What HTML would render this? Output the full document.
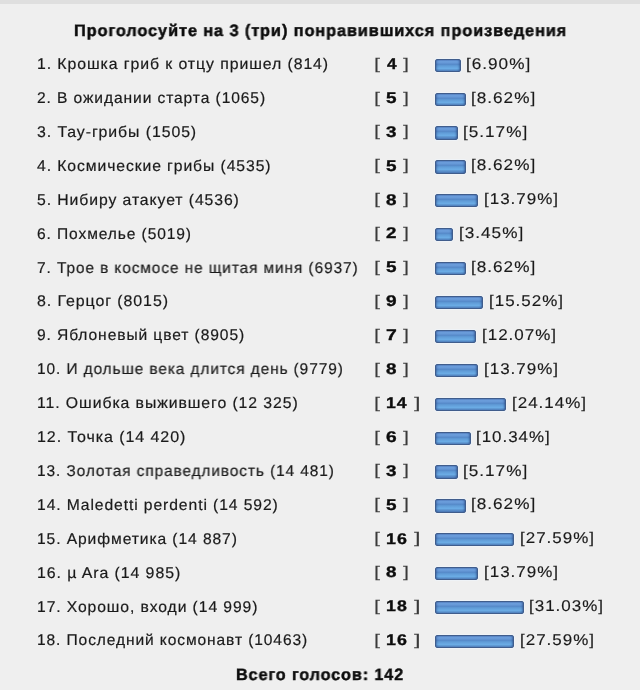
<!DOCTYPE html><html><head><meta charset="utf-8"><style>
html,body{margin:0;padding:0}
body{width:640px;height:690px;background:#efefef;position:relative;overflow:hidden;font-family:"Liberation Sans",sans-serif;color:#1a1a1a}
.t{position:absolute;white-space:nowrap;line-height:1;transform-origin:0 0;will-change:transform;text-rendering:geometricPrecision;letter-spacing:0.9px;-webkit-text-stroke:0.2px currentColor}
.b{font-weight:bold;color:#0c0c0c;-webkit-text-stroke:0.35px currentColor}
.g{color:#3a3a3a;-webkit-text-stroke:0.1px currentColor}
.ti{-webkit-text-stroke:0.45px currentColor}
.pc{-webkit-text-stroke:0.15px currentColor}
.bar{position:absolute;height:13.3px;box-sizing:border-box;border:1px solid #405d8c;border-radius:2px;
background:linear-gradient(#5a88c8 0px,#6a9cda 1.5px,#6699d8 3px,#5587c7 4.2px,#5b95d2 5.2px,#66a4de 7px,#6aabe4 8.5px,#5f98d2 9.6px,#5181bf 11.3px);box-shadow:inset -2px 0 2px -1px rgba(40,70,130,.6), inset 2px 0 2px -1px rgba(40,70,130,.5), 0 0 0 1px rgba(240,248,255,.5)}
.top{position:absolute;left:0;top:0;width:640px;height:3.5px;background:#dfdfdf}
</style></head><body><div class="top"></div>
<div class="t b ti" style="left:73.89px;top:22.93px;font-size:16.5px;transform:scaleX(0.9906)">Проголосуйте на 3 (три) понравившихся произведения</div>
<div class="t " style="left:37.28px;top:57.18px;font-size:15.5px;transform:scaleX(1.0216)">1. Крошка гриб к отцу пришел (814)</div>
<div class="t g" style="left:373.51px;top:56.68px;font-size:15.5px;transform:scaleX(1.4055)">[</div>
<div class="t b" style="left:386.53px;top:56.98px;font-size:15.5px;transform:scaleX(1.1078)">4</div>
<div class="t g" style="left:403.21px;top:56.68px;font-size:15.5px;transform:scaleX(1.3915)">]</div>
<div class="bar" style="left:435px;top:58.60px;width:25.50px"></div>
<div class="t pc" style="left:466.26px;top:56.78px;font-size:15.5px;transform:scaleX(1.1075)">[6.90%]</div>
<div class="t " style="left:37.40px;top:91.08px;font-size:15.5px;transform:scaleX(1.0057)">2. В ожидании старта (1065)</div>
<div class="t g" style="left:373.51px;top:90.58px;font-size:15.5px;transform:scaleX(1.4055)">[</div>
<div class="t b" style="left:386.14px;top:90.88px;font-size:15.5px;transform:scaleX(1.2194)">5</div>
<div class="t g" style="left:403.21px;top:90.58px;font-size:15.5px;transform:scaleX(1.3915)">]</div>
<div class="bar" style="left:435px;top:92.50px;width:30.50px"></div>
<div class="t pc" style="left:471.26px;top:90.68px;font-size:15.5px;transform:scaleX(1.1075)">[8.62%]</div>
<div class="t " style="left:37.36px;top:124.98px;font-size:15.5px;transform:scaleX(1.0226)">3. Тау-грибы (1505)</div>
<div class="t g" style="left:373.51px;top:124.48px;font-size:15.5px;transform:scaleX(1.4055)">[</div>
<div class="t b" style="left:386.38px;top:124.78px;font-size:15.5px;transform:scaleX(1.2114)">3</div>
<div class="t g" style="left:403.21px;top:124.48px;font-size:15.5px;transform:scaleX(1.3915)">]</div>
<div class="bar" style="left:435px;top:126.40px;width:22.50px"></div>
<div class="t pc" style="left:463.26px;top:124.58px;font-size:15.5px;transform:scaleX(1.1075)">[5.17%]</div>
<div class="t " style="left:36.87px;top:158.88px;font-size:15.5px;transform:scaleX(1.0145)">4. Космические грибы (4535)</div>
<div class="t g" style="left:373.51px;top:158.38px;font-size:15.5px;transform:scaleX(1.4055)">[</div>
<div class="t b" style="left:386.14px;top:158.68px;font-size:15.5px;transform:scaleX(1.2194)">5</div>
<div class="t g" style="left:403.21px;top:158.38px;font-size:15.5px;transform:scaleX(1.3915)">]</div>
<div class="bar" style="left:435px;top:160.30px;width:30.50px"></div>
<div class="t pc" style="left:471.26px;top:158.48px;font-size:15.5px;transform:scaleX(1.1075)">[8.62%]</div>
<div class="t " style="left:37.14px;top:192.78px;font-size:15.5px;transform:scaleX(1.0170)">5. Нибиру атакует (4536)</div>
<div class="t g" style="left:373.51px;top:192.28px;font-size:15.5px;transform:scaleX(1.4055)">[</div>
<div class="t b" style="left:386.31px;top:192.58px;font-size:15.5px;transform:scaleX(1.2174)">8</div>
<div class="t g" style="left:403.21px;top:192.28px;font-size:15.5px;transform:scaleX(1.3915)">]</div>
<div class="bar" style="left:435px;top:194.20px;width:43.00px"></div>
<div class="t pc" style="left:483.76px;top:192.38px;font-size:15.5px;transform:scaleX(1.0959)">[13.79%]</div>
<div class="t " style="left:36.76px;top:226.68px;font-size:15.5px;transform:scaleX(1.0036)">6. Похмелье (5019)</div>
<div class="t g" style="left:373.51px;top:226.18px;font-size:15.5px;transform:scaleX(1.4055)">[</div>
<div class="t b" style="left:386.34px;top:226.48px;font-size:15.5px;transform:scaleX(1.2091)">2</div>
<div class="t g" style="left:403.21px;top:226.18px;font-size:15.5px;transform:scaleX(1.3915)">]</div>
<div class="bar" style="left:435px;top:228.10px;width:18.00px"></div>
<div class="t pc" style="left:458.76px;top:226.28px;font-size:15.5px;transform:scaleX(1.1071)">[3.45%]</div>
<div class="t " style="left:37.02px;top:260.58px;font-size:15.5px;transform:scaleX(0.9969)">7. Трое в космосе не щитая миня (6937)</div>
<div class="t g" style="left:373.51px;top:260.08px;font-size:15.5px;transform:scaleX(1.4055)">[</div>
<div class="t b" style="left:386.14px;top:260.38px;font-size:15.5px;transform:scaleX(1.2194)">5</div>
<div class="t g" style="left:403.21px;top:260.08px;font-size:15.5px;transform:scaleX(1.3915)">]</div>
<div class="bar" style="left:435px;top:262.00px;width:30.50px"></div>
<div class="t pc" style="left:471.26px;top:260.18px;font-size:15.5px;transform:scaleX(1.1075)">[8.62%]</div>
<div class="t " style="left:36.82px;top:294.48px;font-size:15.5px;transform:scaleX(1.0281)">8. Герцог (8015)</div>
<div class="t g" style="left:373.51px;top:293.98px;font-size:15.5px;transform:scaleX(1.4055)">[</div>
<div class="t b" style="left:386.26px;top:294.28px;font-size:15.5px;transform:scaleX(1.2303)">9</div>
<div class="t g" style="left:403.21px;top:293.98px;font-size:15.5px;transform:scaleX(1.3915)">]</div>
<div class="bar" style="left:435px;top:295.90px;width:48.00px"></div>
<div class="t pc" style="left:488.76px;top:294.08px;font-size:15.5px;transform:scaleX(1.0959)">[15.52%]</div>
<div class="t " style="left:36.79px;top:328.38px;font-size:15.5px;transform:scaleX(1.0060)">9. Яблоневый цвет (8905)</div>
<div class="t g" style="left:373.51px;top:327.88px;font-size:15.5px;transform:scaleX(1.4055)">[</div>
<div class="t b" style="left:386.15px;top:328.18px;font-size:15.5px;transform:scaleX(1.2491)">7</div>
<div class="t g" style="left:403.21px;top:327.88px;font-size:15.5px;transform:scaleX(1.3915)">]</div>
<div class="bar" style="left:435px;top:329.80px;width:40.75px"></div>
<div class="t pc" style="left:481.51px;top:327.98px;font-size:15.5px;transform:scaleX(1.0959)">[12.07%]</div>
<div class="t " style="left:37.09px;top:362.28px;font-size:15.5px;transform:scaleX(0.9964)">10. И дольше века длится день (9779)</div>
<div class="t g" style="left:373.51px;top:361.78px;font-size:15.5px;transform:scaleX(1.4055)">[</div>
<div class="t b" style="left:386.31px;top:362.08px;font-size:15.5px;transform:scaleX(1.2174)">8</div>
<div class="t g" style="left:403.21px;top:361.78px;font-size:15.5px;transform:scaleX(1.3915)">]</div>
<div class="bar" style="left:435px;top:363.70px;width:43.00px"></div>
<div class="t pc" style="left:483.76px;top:361.88px;font-size:15.5px;transform:scaleX(1.0959)">[13.79%]</div>
<div class="t " style="left:37.08px;top:396.18px;font-size:15.5px;transform:scaleX(1.0199)">11. Ошибка выжившего (12 325)</div>
<div class="t g" style="left:373.51px;top:395.68px;font-size:15.5px;transform:scaleX(1.4055)">[</div>
<div class="t b" style="left:386.42px;top:395.98px;font-size:15.5px;transform:scaleX(1.1343)">14</div>
<div class="t g" style="left:413.80px;top:395.68px;font-size:15.5px;transform:scaleX(1.5136)">]</div>
<div class="bar" style="left:435px;top:397.60px;width:70.75px"></div>
<div class="t pc" style="left:511.51px;top:395.78px;font-size:15.5px;transform:scaleX(1.0959)">[24.14%]</div>
<div class="t " style="left:37.06px;top:430.08px;font-size:15.5px;transform:scaleX(1.0333)">12. Точка (14 420)</div>
<div class="t g" style="left:373.51px;top:429.58px;font-size:15.5px;transform:scaleX(1.4055)">[</div>
<div class="t b" style="left:386.25px;top:429.88px;font-size:15.5px;transform:scaleX(1.2330)">6</div>
<div class="t g" style="left:403.21px;top:429.58px;font-size:15.5px;transform:scaleX(1.3915)">]</div>
<div class="bar" style="left:435px;top:431.50px;width:35.50px"></div>
<div class="t pc" style="left:476.27px;top:429.68px;font-size:15.5px;transform:scaleX(1.0929)">[10.34%]</div>
<div class="t " style="left:37.09px;top:463.98px;font-size:15.5px;transform:scaleX(0.9963)">13. Золотая справедливость (14 481)</div>
<div class="t g" style="left:373.51px;top:463.48px;font-size:15.5px;transform:scaleX(1.4055)">[</div>
<div class="t b" style="left:386.38px;top:463.78px;font-size:15.5px;transform:scaleX(1.2114)">3</div>
<div class="t g" style="left:403.21px;top:463.48px;font-size:15.5px;transform:scaleX(1.3915)">]</div>
<div class="bar" style="left:435px;top:465.40px;width:22.50px"></div>
<div class="t pc" style="left:463.26px;top:463.58px;font-size:15.5px;transform:scaleX(1.1075)">[5.17%]</div>
<div class="t " style="left:37.09px;top:497.88px;font-size:15.5px;transform:scaleX(1.0114)">14. Maledetti perdenti (14 592)</div>
<div class="t g" style="left:373.51px;top:497.38px;font-size:15.5px;transform:scaleX(1.4055)">[</div>
<div class="t b" style="left:386.14px;top:497.68px;font-size:15.5px;transform:scaleX(1.2194)">5</div>
<div class="t g" style="left:403.21px;top:497.38px;font-size:15.5px;transform:scaleX(1.3915)">]</div>
<div class="bar" style="left:435px;top:499.30px;width:30.50px"></div>
<div class="t pc" style="left:471.26px;top:497.48px;font-size:15.5px;transform:scaleX(1.1075)">[8.62%]</div>
<div class="t " style="left:37.09px;top:531.78px;font-size:15.5px;transform:scaleX(1.0079)">15. Арифметика (14 887)</div>
<div class="t g" style="left:373.51px;top:531.28px;font-size:15.5px;transform:scaleX(1.4055)">[</div>
<div class="t b" style="left:386.40px;top:531.58px;font-size:15.5px;transform:scaleX(1.1500)">16</div>
<div class="t g" style="left:413.80px;top:531.28px;font-size:15.5px;transform:scaleX(1.5136)">]</div>
<div class="bar" style="left:435px;top:533.20px;width:78.80px"></div>
<div class="t pc" style="left:519.56px;top:531.38px;font-size:15.5px;transform:scaleX(1.0959)">[27.59%]</div>
<div class="t " style="left:37.07px;top:565.68px;font-size:15.5px;transform:scaleX(1.0250)">16. µ Ara (14 985)</div>
<div class="t g" style="left:373.51px;top:565.18px;font-size:15.5px;transform:scaleX(1.4055)">[</div>
<div class="t b" style="left:386.31px;top:565.48px;font-size:15.5px;transform:scaleX(1.2174)">8</div>
<div class="t g" style="left:403.21px;top:565.18px;font-size:15.5px;transform:scaleX(1.3915)">]</div>
<div class="bar" style="left:435px;top:567.10px;width:42.80px"></div>
<div class="t pc" style="left:483.56px;top:565.28px;font-size:15.5px;transform:scaleX(1.0959)">[13.79%]</div>
<div class="t " style="left:37.09px;top:599.58px;font-size:15.5px;transform:scaleX(1.0115)">17. Хорошо, входи (14 999)</div>
<div class="t g" style="left:373.51px;top:599.08px;font-size:15.5px;transform:scaleX(1.4055)">[</div>
<div class="t b" style="left:386.41px;top:599.38px;font-size:15.5px;transform:scaleX(1.1448)">18</div>
<div class="t g" style="left:413.80px;top:599.08px;font-size:15.5px;transform:scaleX(1.5136)">]</div>
<div class="bar" style="left:435px;top:601.00px;width:88.60px"></div>
<div class="t pc" style="left:529.36px;top:599.18px;font-size:15.5px;transform:scaleX(1.0959)">[31.03%]</div>
<div class="t " style="left:37.09px;top:633.48px;font-size:15.5px;transform:scaleX(1.0027)">18. Последний космонавт (10463)</div>
<div class="t g" style="left:373.51px;top:632.98px;font-size:15.5px;transform:scaleX(1.4055)">[</div>
<div class="t b" style="left:386.40px;top:633.28px;font-size:15.5px;transform:scaleX(1.1500)">16</div>
<div class="t g" style="left:413.80px;top:632.98px;font-size:15.5px;transform:scaleX(1.5136)">]</div>
<div class="bar" style="left:435px;top:634.90px;width:78.80px"></div>
<div class="t pc" style="left:519.56px;top:633.08px;font-size:15.5px;transform:scaleX(1.0959)">[27.59%]</div>
<div class="t b ti" style="left:236.14px;top:667.23px;font-size:16.5px;transform:scaleX(0.9812)">Всего голосов: 142</div>
</body></html>
